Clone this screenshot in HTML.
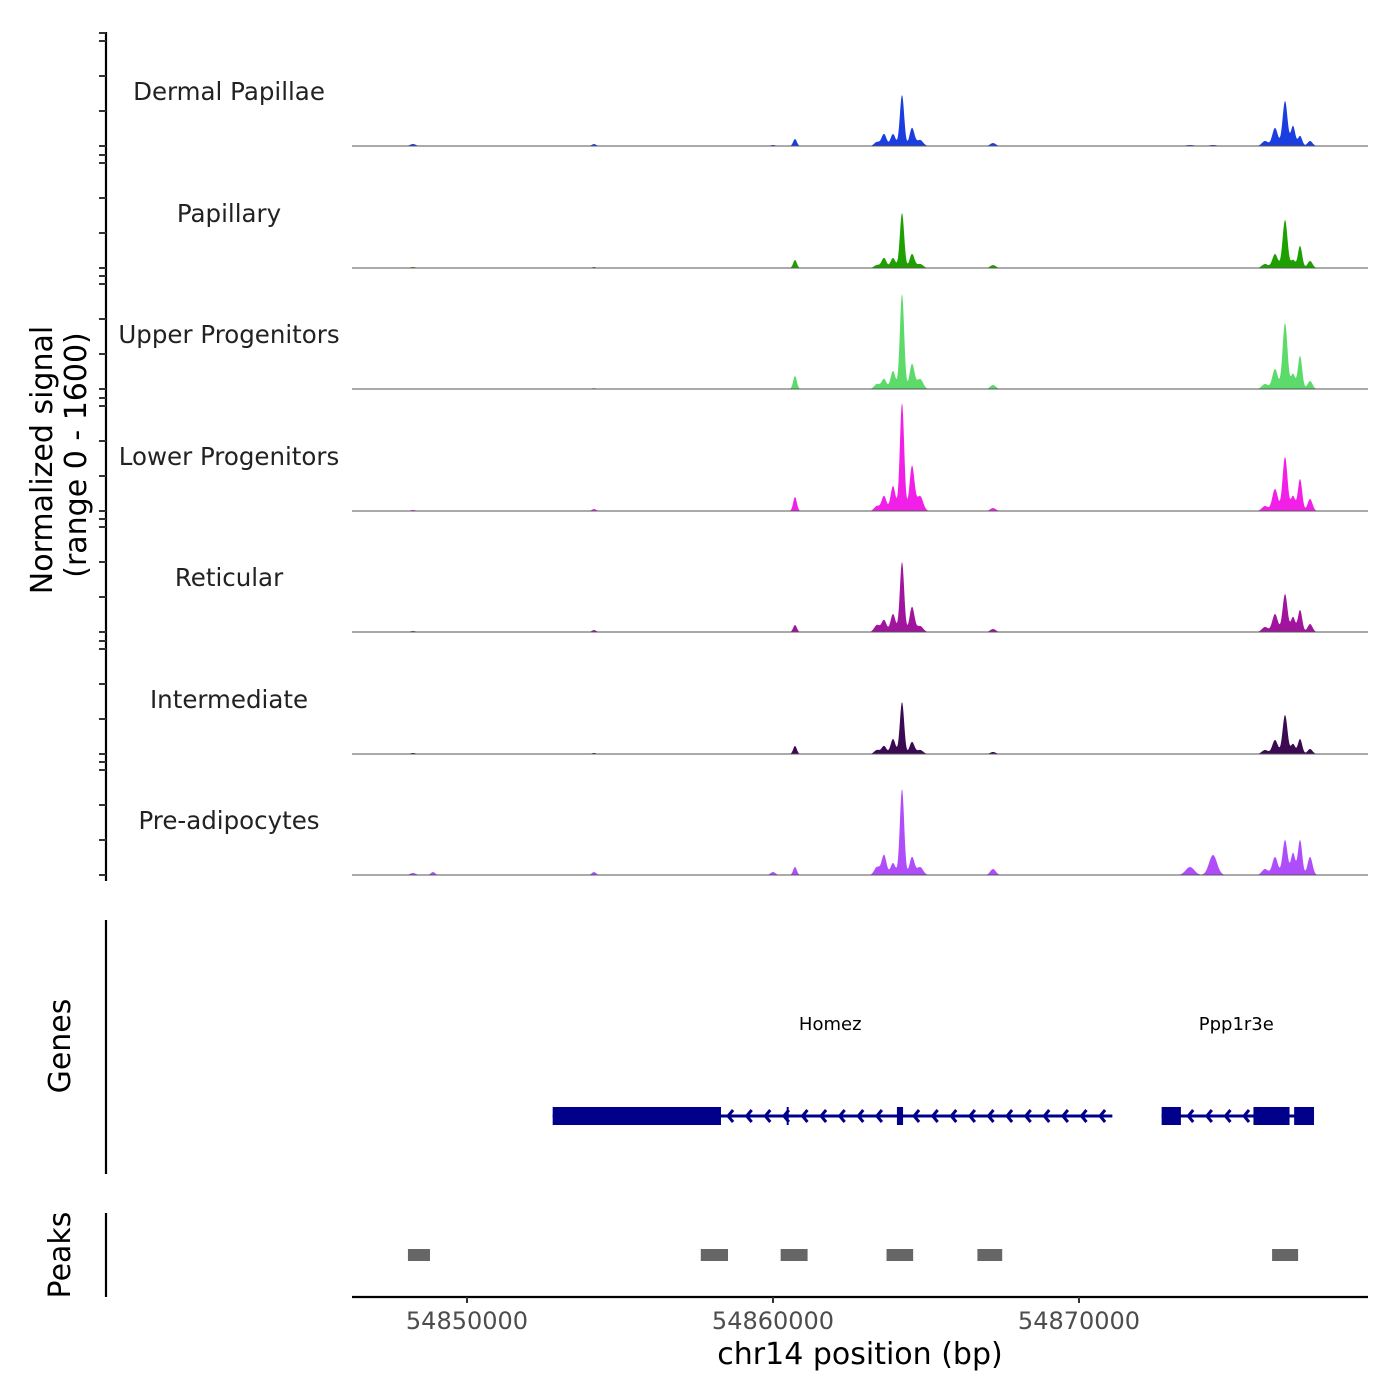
<!DOCTYPE html>
<html><head><meta charset="utf-8">
<style>
html,body{margin:0;padding:0;background:#fff;}
svg{display:block;font-family:"DejaVu Sans","Liberation Sans",sans-serif;}
</style></head>
<body>
<svg id="chart" width="1400" height="1400" viewBox="0 0 1400 1400" xmlns="http://www.w3.org/2000/svg">
<text transform="translate(52,460) rotate(-90)" text-anchor="middle" font-size="30" fill="#000">Normalized signal</text>
<text transform="translate(86,455) rotate(-90)" text-anchor="middle" font-size="30" fill="#000">(range 0 - 1600)</text>
<text transform="translate(70,1046) rotate(-90)" text-anchor="middle" font-size="30" fill="#000">Genes</text>
<text transform="translate(70,1255) rotate(-90)" text-anchor="middle" font-size="30" fill="#000">Peaks</text>
<line x1="106" y1="32" x2="106" y2="881" stroke="#000" stroke-width="2.2"/>
<line x1="106" y1="920" x2="106" y2="1174" stroke="#000" stroke-width="2.2"/>
<line x1="106" y1="1213" x2="106" y2="1297" stroke="#000" stroke-width="2.2"/>
<line x1="352" y1="1297" x2="1368" y2="1297" stroke="#000" stroke-width="2.2"/>
<text x="860" y="1364" text-anchor="middle" font-size="30" fill="#000">chr14 position (bp)</text>
<g id="tracks"></g>
<g id="genes"></g>
<g id="peaks"></g>
<g id="xaxis"></g>
<g id="yticks"></g>
</svg>
<script>
const trackNames = ["Dermal Papillae","Papillary","Upper Progenitors","Lower Progenitors","Reticular","Intermediate","Pre-adipocytes"];
const trackColors = ["#1a3ee0","#1ea000","#5cdb6a","#f21fe8","#a0149e","#3b0a52","#b04dfb"];
const peakPos = [54848235,54848889,54854150,54860000,54860719,54863399,54863628,54863922,54864216,54864543,54864804,54867190,54873628,54874380,54876079,54876406,54876733,54876994,54877223,54877550];
const peakWidth = [90,70,70,80,60,90,80,80,70,80,100,90,140,130,100,90,80,70,70,80];
const sigDermal = [28,0,28,14,99,57,170,170,722,255,85,42,14,14,71,255,637,283,142,71];
const sigPapillary = [14,0,14,0,113,42,142,142,779,198,57,42,0,0,57,198,680,113,312,99];
const sigUpper = [0,0,14,0,184,71,142,255,1345,354,142,57,0,0,71,283,935,212,467,113];
const sigLower = [14,0,28,0,198,71,212,354,1529,637,212,42,0,0,71,312,765,212,453,170];
const sigReticular = [14,0,28,0,99,99,170,255,991,354,85,42,0,0,71,255,538,212,312,113];
const sigIntermediate = [14,0,14,0,113,57,113,212,736,170,57,28,0,0,57,198,552,142,212,71];
const sigPreadip = [28,42,42,42,113,113,283,170,1218,255,113,85,113,283,85,255,496,312,496,255];
const trackSignals = [sigDermal,sigPapillary,sigUpper,sigLower,sigReticular,sigIntermediate,sigPreadip];
const xTicks = [54850000,54860000,54870000];
const genes = [
  {name:"Homez", start:54852800, end:54871090, labelPos:54861870,
   exons:[[54852800,54858300],[54864050,54864250]], marks:[54860480]},
  {name:"Ppp1r3e", start:54872700, end:54877650, labelPos:54875140,
   exons:[[54872700,54873330],[54875700,54876880],[54877030,54877680]], marks:[]}
];
const peakStarts = [54848070,54857640,54860250,54863710,54866680,54876310];
const peakEnds = [54848790,54858530,54861130,54864580,54867490,54877160];

const NS="http://www.w3.org/2000/svg";
const X0=352,X1=1368,BP0=54846242,BP1=54879444;
function xs(bp){return X0+(bp-BP0)/(BP1-BP0)*(X1-X0);}
const baselines=[146,268,389,511,632,754,875];
const trackH=113;
function ys(v,i){return baselines[i]-v/1600*trackH;}
function mk(tag,attrs,parent){const e=document.createElementNS(NS,tag);for(const k in attrs)e.setAttribute(k,attrs[k]);parent.appendChild(e);return e;}

const tracksG=document.getElementById('tracks');
trackNames.forEach((name,i)=>{
  const g=mk('g',{},tracksG);
  
  
  const lab=mk('text',{x:229,y:baselines[i]-46,'text-anchor':'middle','font-size':'24.5',fill:'#222'},g);
  lab.textContent=name;
  
  
  const sig=trackSignals[i];
  let d='M'+X0+','+baselines[i];
  for(let px=X0;px<=X1;px+=0.5){
    const bp=BP0+(px-X0)/(X1-X0)*(BP1-BP0);
    let v=0;
    for(let k=0;k<peakPos.length;k++){
      const z=(bp-peakPos[k])/peakWidth[k];
      v+=sig[k]*Math.exp(-0.5*z*z);
    }
    v=Math.min(v,1600);
    d+=' L'+px.toFixed(1)+','+ys(v,i).toFixed(2);
  }
  d+=' L'+X1+','+baselines[i]+' Z';
  const area=mk('path',{d:d,fill:trackColors[i],stroke:'none'},g);
  
  
  const bl=mk('line',{x1:X0,x2:X1,y1:baselines[i],y2:baselines[i],stroke:'#555','stroke-width':1},g);
  
  
});

const yt=document.getElementById('yticks');
baselines.forEach((b,i)=>{
  [0,35,70,105,113].forEach(o=>{
    const y=b-o;
    if(y<32)return;
    const t=mk('line',{x1:99,x2:106,y1:y,y2:y,stroke:'#333','stroke-width':2},yt);
    
    
  });
});

const gg=document.getElementById('genes');
const GY=1116,GC='#00008b';
genes.forEach(gn=>{
  const g=mk('g',{},gg);
  
  
  const lab=mk('text',{x:xs(gn.labelPos),y:1030,'text-anchor':'middle','font-size':'18',fill:'#000'},g);
  lab.textContent=gn.name;
  
  
  const x1=xs(gn.start),x2=xs(gn.end);
  const ln=mk('line',{x1:x1,x2:x2,y1:GY,y2:GY,stroke:GC,'stroke-width':3},g);
  
  
  for(let x=x1+8;x<x2-4;x+=18.6){
    const inEx=gn.exons.some(e=>x>xs(e[0])-4&&x<xs(e[1])+6);
    if(inEx)continue;
    const ch=mk('path',{d:`M${x+5},${GY-6} L${x},${GY} L${x+5},${GY+6}`,stroke:GC,'stroke-width':3,fill:'none'},g);
    
    
  }
  gn.marks.forEach(m=>{
    const l=mk('line',{x1:xs(m),x2:xs(m),y1:GY-9,y2:GY+9,stroke:GC,'stroke-width':2},g);
    
    
  });
  gn.exons.forEach(e=>{
    const r=mk('rect',{x:xs(e[0]),y:GY-9,width:Math.max(4,xs(e[1])-xs(e[0])),height:18,fill:GC},g);
    
    
  });
});

const pg=document.getElementById('peaks');
peakStarts.forEach((s,i)=>{
  const r=mk('rect',{x:xs(s),y:1249,width:xs(peakEnds[i])-xs(s),height:12,fill:'#666'},pg);
  
  
});

const xa=document.getElementById('xaxis');
xTicks.forEach(t=>{
  const x=xs(t);
  const l=mk('line',{x1:x,x2:x,y1:1297,y2:1303,stroke:'#333','stroke-width':2},xa);
  
  
  const tx=mk('text',{x:x,y:1329,'text-anchor':'middle','font-size':'24',fill:'#4d4d4d'},xa);
  tx.textContent=String(t);
  
  
});
</script>
</body></html>
